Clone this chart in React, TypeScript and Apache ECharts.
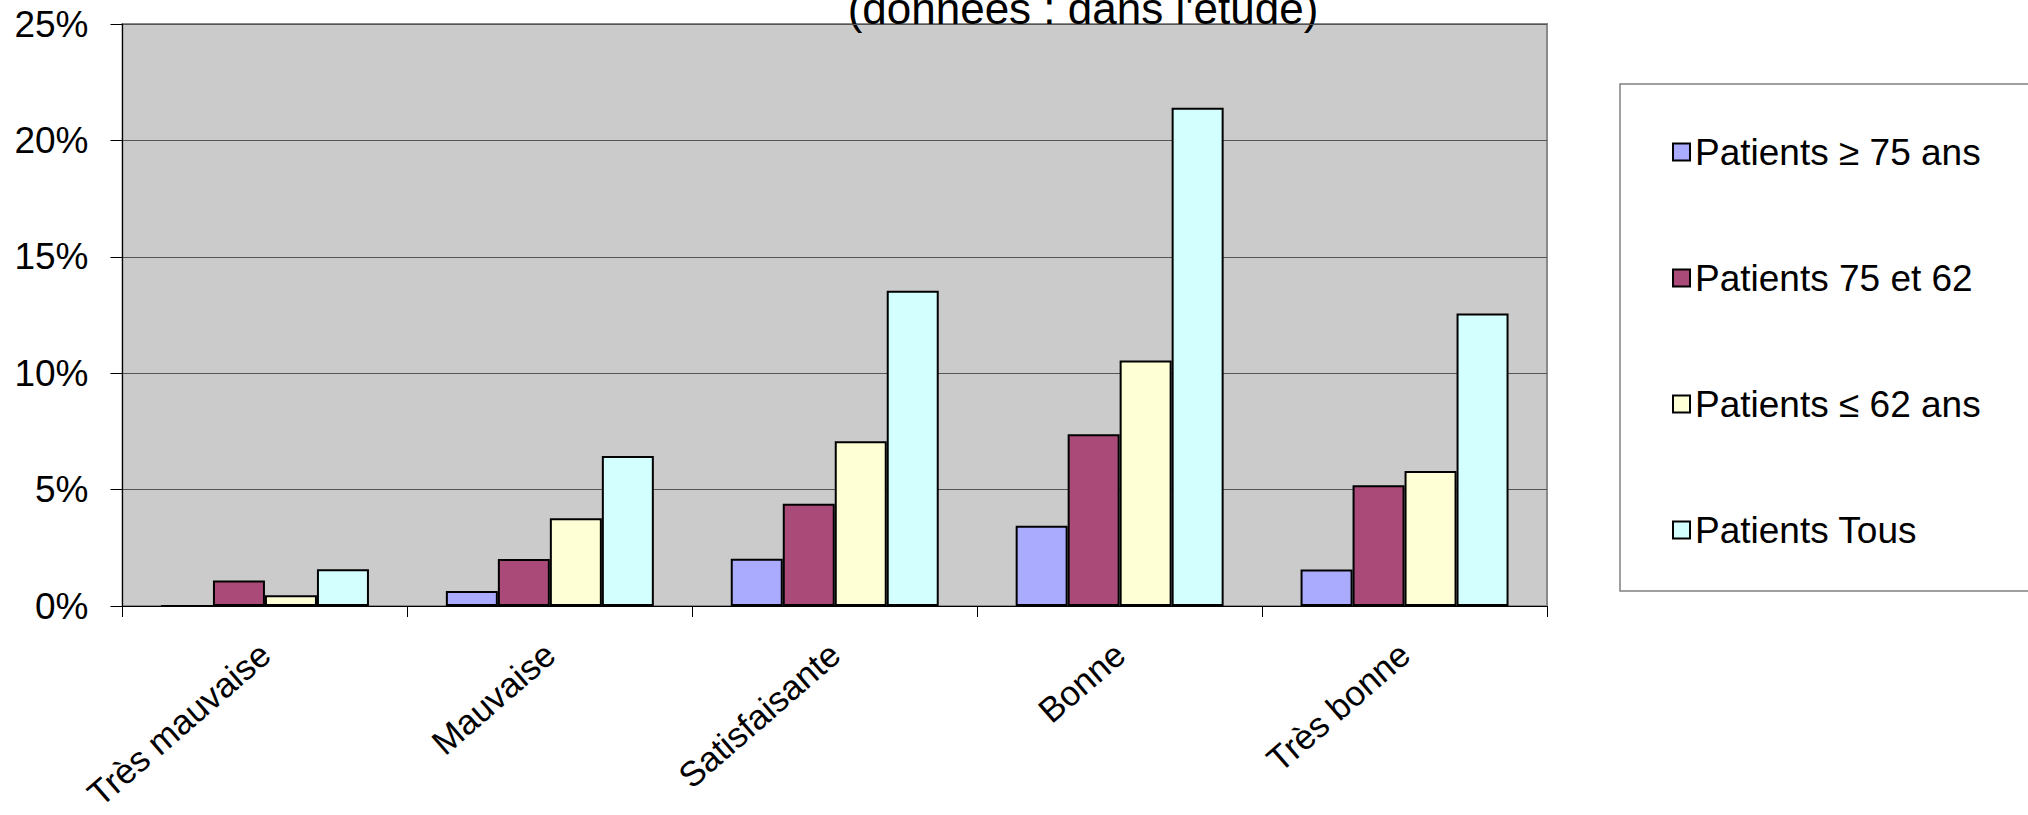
import React, { useEffect, useRef } from "react";
import * as echarts from "echarts";

const categories = ["Très mauvaise", "Mauvaise", "Satisfaisante", "Bonne", "Très bonne"];
const seriesNames = ["Patients ≥ 75 ans", "Patients 75 et 62", "Patients ≤ 62 ans", "Patients Tous"];
const patients75plus = [0, 0.64, 2.03, 3.45, 1.57];
const patients75to62 = [1.09, 2.02, 4.39, 7.38, 5.19];
const patients62minus = [0.46, 3.77, 7.08, 10.55, 5.8];
const patientsAll = [1.58, 6.44, 13.54, 21.4, 12.56];
const yTicks = [0, 5, 10, 15, 20, 25];
const titleText = "(données : dans l'étude)";

const seriesColors = ["#AAAAFF", "#AA4A78", "#FFFFD5", "#D4FFFF"];
const FONT = "'Liberation Sans', Arial, sans-serif";

export default function App() {
  const ref = useRef<HTMLDivElement>(null);
  useEffect(() => {
    if (!ref.current) return;
    const chart = echarts.init(ref.current, undefined, { renderer: "svg" });
    const values = [patients75plus, patients75to62, patients62minus, patientsAll];
    chart.setOption({
      animation: false,
      backgroundColor: "#ffffff",
      textStyle: { fontFamily: FONT },
      grid: {
        left: 122.5,
        right: 481,
        top: 24,
        bottom: 209,
        containLabel: false,
        outerBoundsMode: "none",
        show: true,
        backgroundColor: "#CBCBCB",
        borderColor: "#8a8a8a",
        borderWidth: 2,
      },
      graphic: [
        {
          type: "rect",
          z: 0,
          shape: { x: 1620, y: 84, width: 500, height: 507 },
          style: { fill: "#ffffff", stroke: "#808080", lineWidth: 1.5 },
        },
        {
          type: "text",
          x: 1083,
          y: 30,
          style: {
            text: titleText,
            fontFamily: FONT,
            fontSize: 44,
            fill: "#000000",
            textAlign: "center",
            textVerticalAlign: "bottom",
          },
        },
      ],
      legend: {
        orient: "vertical",
        left: 1667,
        top: 127,
        itemWidth: 17,
        itemHeight: 17,
        itemGap: 86,
        icon: "rect",
        data: seriesNames,
        itemStyle: { borderColor: "#000000", borderWidth: 2 },
        textStyle: {
          fontFamily: FONT,
          fontSize: 37,
          color: "#000000",
          lineHeight: 40,
          padding: [0, 0, 0, 0],
        },
        z: 10,
      },
      xAxis: {
        type: "category",
        data: categories,
        boundaryGap: true,
        axisLine: { show: true, lineStyle: { color: "#000000", width: 1 } },
        axisTick: { show: true, length: 11, lineStyle: { color: "#000000" } },
        axisLabel: {
          rotate: 41,
          margin: 43,
          fontSize: 35,
          fontFamily: FONT,
          color: "#000000",
          interval: 0,
        },
        splitLine: { show: false },
      },
      yAxis: {
        type: "value",
        min: yTicks[0],
        max: yTicks[yTicks.length - 1],
        interval: 5,
        axisLine: { show: true, lineStyle: { color: "#000000", width: 1 } },
        axisTick: { show: true, length: 12, lineStyle: { color: "#000000" } },
        axisLabel: {
          formatter: "{value}%",
          margin: 34,
          fontSize: 37,
          fontFamily: FONT,
          color: "#000000",
        },
        splitLine: { show: true, lineStyle: { color: "#555555", width: 1 } },
      },
      series: seriesNames.map((name, i) => ({
        name,
        type: "bar",
        data: values[i],
        barGap: "0%",
        barCategoryGap: "27%",
        itemStyle: {
          color: seriesColors[i],
          borderColor: "#000000",
          borderWidth: 2,
        },
      })),
    });
    return () => chart.dispose();
  }, []);
  return (
    <div
      ref={ref}
      style={{ position: "fixed", left: 0, top: 0, width: 2028, height: 815 }}
    />
  );
}
